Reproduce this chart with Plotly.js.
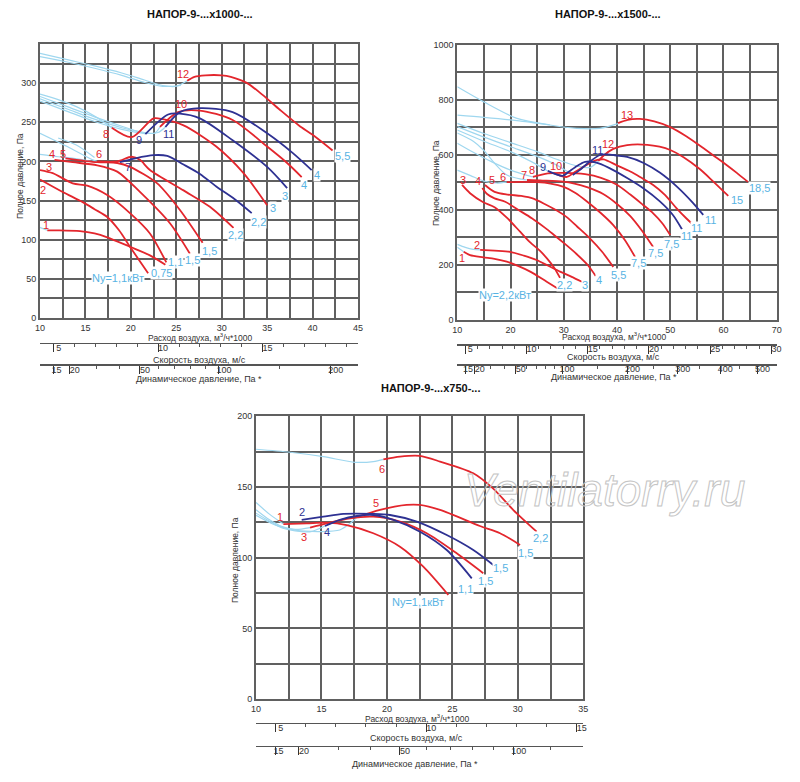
<!DOCTYPE html>
<html>
<head>
<meta charset="utf-8">
<script src="https://cdn.plot.ly/plotly-3.0.1.min.js"></script>
<style>
html, body { margin: 0; padding: 0; background: #fff; }
#chart { width: 800px; height: 782px; }
</style>
</head>
<body>
<div id="chart"></div>
<script>
"use strict";

// ---- chart A: НАПОР-9-...x1000-... (flow m3/h*1000, total pressure Pa)
const flowTicksA = [10, 15, 20, 25, 30, 35, 40, 45];
const pressTicksA = [0, 50, 100, 150, 200, 250, 300];
const speedTicksA = [5, 10, 15];
const dynTicksA = [15, 20, 50, 100, 200];
const dynMinorA = [30, 40, 60, 70, 80, 90, 150];

const a1 = [[10.8, 112], [12, 112], [14.4, 111], [16, 108], [17.4, 103], [19.9, 91], [22.1, 80], [23.8, 68]];
const a2 = [[10, 177], [12.5, 161], [14.7, 148], [16, 139], [17.4, 129], [18.7, 112], [19.9, 91], [21.9, 57]];
const a3 = [[10, 189], [11.4, 185], [13.6, 172], [15.2, 169], [17.4, 157], [19.9, 134], [22.1, 108], [23.9, 71]];
const a4 = [[11.6, 202], [13.6, 199], [16.3, 195], [18.5, 187], [21, 161], [24.3, 121], [26.5, 82]];
const a5 = [[12.8, 204], [16.3, 199], [18.5, 198], [19.9, 193], [22.9, 172], [25.4, 138], [27.9, 96]];
const a6 = [[16.3, 200], [18.5, 200], [20.1, 206], [21, 202], [22.1, 189], [25.8, 163], [28.7, 142], [31.3, 115]];
const a7 = [[18.8, 199], [20.5, 204], [22.5, 208], [24, 207], [25.8, 196], [27.6, 184], [29.4, 168], [31.4, 152], [33.3, 134]];
const a8 = [[17.9, 243], [20.1, 231], [22.5, 255], [23.5, 254], [25.8, 246], [29.4, 219], [32.4, 185], [35, 144]];
const a9 = [[21.6, 235], [24.1, 260], [25.4, 261], [27.6, 255], [31.2, 227], [35, 193], [37.2, 166]];
const a10 = [[23.2, 244], [25.2, 263], [27.6, 265], [31.2, 253], [35, 219], [37.2, 198], [38.8, 180]];
const a11 = [[23.8, 244], [25.4, 263], [27.6, 268], [31.2, 263], [35, 236], [37.8, 211], [39.9, 189]];
const a12 = [[26.2, 303], [27, 308], [28.2, 310], [30, 310], [31, 308], [32.8, 300], [34.5, 285], [36.4, 266], [38.5, 246], [40, 234], [42.2, 214]];

const aSky1 = [[10, 338], [13, 330], [16, 322], [19, 313], [21.5, 304], [23.5, 297], [25, 296], [26.2, 303]];
const aSky2 = [[10, 334], [13, 327], [16, 319], [19, 310], [21.5, 301], [23.5, 296], [25.5, 297]];
const aSky3 = [[10, 286], [12, 279], [14, 270], [16, 258], [17.9, 243]];
const aSky4 = [[10, 283], [13, 270], [16, 257], [19, 245], [21.6, 235]];
const aSky5 = [[10, 280], [13, 267], [16, 254], [19, 243], [21, 238], [22.6, 236], [23.2, 244]];
const aSky6 = [[10, 277], [13, 264], [16, 251], [19, 241], [21.5, 236], [23, 237], [23.8, 244]];
const aSky7 = [[10, 236], [13, 219], [15.8, 202], [16.3, 200]];
const aSky8 = [[12, 230], [14, 221], [16, 205]];
const aSky9 = [[10, 209], [12, 206], [13.7, 204], [16.2, 199]];
const aSky10 = [[9.9, 116], [10.8, 112]];

// ---- chart B: НАПОР-9-...x1500-...
const flowTicksB = [10, 20, 30, 40, 50, 60, 70];
const pressTicksB = [0, 200, 400, 600, 800, 1000];
const speedTicksB = [5, 10, 15, 20, 25, 30];
const dynTicksB = [15, 20, 50, 100, 200, 300, 400, 500];
const dynMinorB = [30, 40, 60, 70, 80, 90, 150, 250, 350, 450];

const b1 = [[11.2, 248], [12.4, 236], [14.9, 228], [17, 222], [19.3, 212], [21.5, 196], [23.7, 176], [26.8, 139], [29.3, 109]];
const b2 = [[14.3, 255], [17, 252], [19.9, 248], [22.5, 234], [24.9, 218], [27, 198], [29.3, 176], [31.5, 157], [33.4, 139]];
const b3 = [[10.9, 491], [12.4, 461], [14.8, 429], [17, 410], [19.3, 372], [21.8, 321], [23.7, 282], [25.5, 252], [26.8, 225], [28.2, 190], [29.3, 153]];
const b4 = [[14.7, 480], [15.6, 458], [17, 442], [19, 430], [21.5, 400], [24, 370], [26.5, 335], [28, 312], [30.5, 272], [32.4, 240], [34.5, 200], [36, 160]];
const b5 = [[15.2, 491], [17, 466], [19.5, 456], [22, 451], [24.3, 441], [26.5, 421], [28.7, 398], [30.5, 375], [32.5, 340], [34.9, 297], [37.2, 248], [39.3, 193]];
const b6 = [[19.3, 501], [22, 502], [25, 501], [27.5, 496], [30, 484], [32.2, 462], [34.3, 432], [37, 388], [39.3, 345], [41.5, 290], [43.4, 229]];
const b7 = [[23.1, 509], [26, 507], [29.9, 503], [32, 496], [34.5, 482], [37.4, 458], [40, 422], [42.5, 378], [44.8, 322], [46.8, 265]];
const b8 = [[24.2, 520], [27, 533], [30.5, 535], [34, 530], [37, 517], [40, 492], [42.5, 456], [44.8, 420], [46.8, 388], [48.5, 352], [50, 309]];
const b9 = [[27, 542], [29.8, 524], [31, 540], [32.5, 560], [34, 575], [36, 573], [38.5, 553], [41.9, 516], [45, 478], [48, 432], [50.5, 382], [52.2, 330]];
const b10 = [[28, 535], [30.6, 520], [32, 537], [33.6, 556], [35, 572], [36.3, 582], [37.5, 584], [40, 562], [42.5, 540], [44.5, 518], [46.8, 491], [49, 455], [51.2, 406], [53, 370], [54.1, 350]];
const b11 = [[31.7, 527], [33, 545], [34.5, 570], [36.8, 600], [38.1, 602], [40, 598], [41.9, 593], [45, 571], [48.1, 535], [51.3, 484], [54.3, 425], [56.2, 382]];
const b12 = [[36.5, 578], [37.5, 598], [39.3, 622], [41.9, 636], [45.7, 637], [48, 630], [50, 618], [52.5, 592], [55.6, 548], [58, 505], [60.9, 451]];
const b13 = [[40.2, 716], [42, 728], [44.3, 731], [47, 722], [49.9, 702], [53, 668], [56.2, 625], [58.5, 593], [60.7, 562], [62.5, 535], [64.6, 502]];

const bSky1 = [[10, 848], [14.9, 794], [21.2, 733], [27.4, 709], [32.4, 697], [36.8, 697], [40.2, 714]];
const bSky2 = [[10, 745], [15, 737], [21.2, 725], [27.4, 709]];
const bSky3 = [[10, 715], [15, 678], [20, 645], [25, 612], [29, 582], [32.5, 560], [35, 555], [36.5, 578]];
const bSky4 = [[10, 703], [15, 665], [20, 630], [25, 595], [28.5, 565], [31.7, 527]];
const bSky5 = [[10, 691], [15, 650], [20, 612], [24, 575], [27, 542]];
const bSky6 = [[10, 643], [13, 610], [16.5, 575], [20, 545], [24.2, 520]];
const bSky7 = [[10, 680], [13, 650], [14.9, 618], [17, 570], [19.3, 527], [22.1, 512], [23.1, 509]];
const bSky8 = [[10, 545], [12.5, 525], [15, 505], [17.4, 498], [19.3, 501]];
const bSky9 = [[10, 275], [11.5, 264], [13, 257], [14.3, 255]];
const bSky10 = [[10, 265], [11.2, 248]];

// ---- chart C: НАПОР-9-...x750-...
const flowTicksC = [10, 15, 20, 25, 30, 35];
const pressTicksC = [0, 50, 100, 150, 200];
const speedTicksC = [5, 10, 15];
const dynTicksC = [15, 20, 50, 100, 140];
const dynMinorC = [30, 40, 60, 70, 80, 90, 120];

const c1 = [[12.09, 123.8], [13.87, 124.3], [15.4, 124.8], [16.93, 123.1], [18.96, 117.3], [21, 107.8], [22.78, 93.6], [24.69, 73.6]];
const c2 = [[13.49, 126.7], [15.14, 129], [16.67, 131], [18.96, 131], [20.24, 130.2], [22.28, 125.5], [24.57, 116], [26.6, 105.4], [28.13, 94.8]];
const c3 = [[14.13, 121.3], [15.4, 124.3], [17.18, 127.9], [18.96, 129], [21, 125.5], [23.04, 117.3], [25.33, 103.1], [27.36, 89]];
const c4 = [[15.27, 122.4], [16.4, 126.7], [17.7, 129.5], [18.96, 130.2], [20.5, 126.7], [22.53, 118.4], [24.57, 105.4], [26.48, 85.4]];
const c5 = [[17.7, 128.6], [19.47, 133.8], [21.5, 137.3], [22.5, 137.3], [24.06, 133.8], [27.1, 122.4], [28.64, 117.3], [30.17, 109]];
const c6 = [[19.73, 169.6], [21, 171.5], [22.5, 172], [24.06, 168], [26.6, 159.7], [28.1, 149], [29.66, 133.7], [31.44, 118.4]];

const cSky1 = [[10, 176.7], [12.6, 174.6], [15.14, 171.5], [17.56, 167.5], [18.96, 168], [19.73, 169.6]];
const cSky2 = [[10, 139], [11, 131], [12.09, 123.8]];
const cSky3 = [[10, 134], [11, 127], [12, 122], [13, 120], [14.13, 121.3]];
const cSky4 = [[10, 131.5], [11, 126], [12, 121], [13, 119], [14.2, 118.5], [15.27, 122.4]];
const cSky5 = [[10, 130], [11.5, 123], [13, 119.5], [15, 118.5], [16.4, 119.6], [17.2, 124.3], [17.7, 128.6]];

// air speed = flow / K, dynamic pressure = 0.6 * v^2
const K = 2.3;
const flowAtDyn = (pd) => K * Math.sqrt(pd / 0.6);

const RED = "#e3262d";
const BLUE = "#2e3192";
const SKY = "#9fd7ef";
const SKY_TEXT = "#58b3e3";
const GRID = "#606060";
const NARROW = "Liberation Sans Narrow, Liberation Sans, Arial, sans-serif";
const WATERMARK = "Ventilatorry.ru";

const traces = [];

const addCurve = (points, color, width, xa, ya) => {
    traces.push({
        type: "scatter",
        mode: "lines",
        x: points.map((p) => p[0]),
        y: points.map((p) => p[1]),
        xaxis: xa,
        yaxis: ya,
        line: { color, width, shape: "spline", smoothing: 0.8 },
        hoverinfo: "skip",
        showlegend: false,
    });
};

[aSky1, aSky2, aSky3, aSky4, aSky5, aSky6, aSky7, aSky8, aSky9, aSky10]
    .forEach((c) => addCurve(c, SKY, 1.2, "x", "y"));
[a1, a2, a3, a4, a5, a6, a8, a10, a12]
    .forEach((c) => addCurve(c, RED, 1.8, "x", "y"));
[a7, a9, a11]
    .forEach((c) => addCurve(c, BLUE, 1.8, "x", "y"));

[bSky1, bSky2, bSky3, bSky4, bSky5, bSky6, bSky7, bSky8, bSky9, bSky10]
    .forEach((c) => addCurve(c, SKY, 1.2, "x2", "y2"));
[b1, b2, b3, b4, b5, b6, b7, b8, b10, b12, b13]
    .forEach((c) => addCurve(c, RED, 1.8, "x2", "y2"));
[b9, b11]
    .forEach((c) => addCurve(c, BLUE, 1.8, "x2", "y2"));

[cSky1, cSky2, cSky3, cSky4, cSky5]
    .forEach((c) => addCurve(c, SKY, 1.2, "x3", "y3"));
[c1, c3, c5, c6]
    .forEach((c) => addCurve(c, RED, 1.8, "x3", "y3"));
[c2, c4]
    .forEach((c) => addCurve(c, BLUE, 1.8, "x3", "y3"));

// empty traces so that the extra scales get drawn
[["x4", "y"], ["x5", "y"], ["x6", "y2"], ["x7", "y2"], ["x8", "y3"], ["x9", "y3"]]
    .forEach(([xa, ya]) => {
        traces.push({
            type: "scatter", mode: "lines", x: [null], y: [null],
            xaxis: xa, yaxis: ya, hoverinfo: "skip", showlegend: false,
        });
    });

const tickFont = { family: NARROW, size: 9, color: "#333" };

const gridAxis = (domain, range, labels, minorStep, anchor) => ({
    domain,
    range,
    anchor,
    tickmode: "array",
    tickvals: labels,
    ticktext: labels.map(String),
    tickangle: 0,
    ticks: "",
    showgrid: true,
    gridcolor: GRID,
    gridwidth: 2,
    minor: {
        tickmode: "linear",
        tick0: 0,
        dtick: minorStep,
        showgrid: true,
        gridcolor: GRID,
        gridwidth: 2,
    },
    showline: true,
    mirror: true,
    linecolor: GRID,
    linewidth: 2,
    zeroline: false,
    fixedrange: true,
    tickfont: tickFont,
});

const extraAxis = (domain, base, position) => ({
    domain,
    overlaying: base,
    anchor: "free",
    position,
    tickangle: 0,
    ticks: "outside",
    ticklen: 8,
    tickwidth: 1,
    tickcolor: "#333",
    showline: true,
    linecolor: "#555",
    linewidth: 1.5,
    showgrid: false,
    zeroline: false,
    fixedrange: true,
    ticklabelshift: 5,
    ticklabelstandoff: -12,
    tickfont: tickFont,
});

const speedAxis = (domain, flowRange, labels, base, position) => Object.assign(
    extraAxis(domain, base, position),
    {
        range: flowRange.map((q) => q / K),
        tickmode: "array",
        tickvals: labels,
        ticktext: labels.map(String),
        minor: {
            tickmode: "linear", tick0: 0, dtick: 1,
            ticks: "outside", ticklen: 3, tickwidth: 1, tickcolor: "#555",
        },
    }
);

// the first dynamic-pressure label sits tight against the second one
const dynText = (v, i) => (i === 0 ? v + "\u2002" : String(v));

const dynAxis = (domain, flowRange, labels, minors, base, position) => Object.assign(
    extraAxis(domain, base, position),
    {
        range: flowRange,
        tickmode: "array",
        tickvals: labels.map(flowAtDyn),
        ticktext: labels.map(dynText),
        minor: {
            tickmode: "array", tickvals: minors.map(flowAtDyn),
            ticks: "outside", ticklen: 3, tickwidth: 1, tickcolor: "#555",
        },
    }
);

const domA = [[0.05, 0.4475], [0.5934, 0.9437]];
const domB = [[0.5716, 0.9709], [0.5908, 0.9425]];
const domC = [[0.32, 0.7291], [0.1061, 0.4676]];

const annotations = [];

const label = (text, x, y, xref, yref, color, withBg) => {
    annotations.push({
        text, x, y, xref, yref,
        xanchor: "center",
        yanchor: "middle",
        showarrow: false,
        font: { family: NARROW, size: 11, color },
        bgcolor: withBg ? "#fff" : "rgba(0,0,0,0)",
        borderpad: 0,
    });
};

const paperText = (text, x, y, opts) => {
    annotations.push(Object.assign({
        text, x, y, xref: "paper", yref: "paper",
        xanchor: "center",
        yanchor: "middle",
        showarrow: false,
        font: { family: NARROW, size: 9, color: "#333" },
    }, opts || {}));
};

// curve numbers and motor powers, chart A
[
    ["12", 25.7, 312, RED], ["10", 25.5, 273, RED], ["8", 17.3, 235, RED],
    ["9", 20.9, 227, BLUE], ["11", 24.1, 235, BLUE], ["7", 19.7, 193, BLUE],
    ["6", 16.5, 209, RED], ["5", 12.5, 209, RED], ["4", 11.3, 209, RED],
    ["3", 11, 193, RED], ["2", 10.3, 163, RED], ["1", 10.7, 119, RED],
].forEach(([t, x, y, c]) => label(t, x, y, "x", "y", c, false));
[
    ["5,5", 43.3, 207], ["4", 40.5, 183], ["4", 39.1, 170], ["3", 37, 156],
    ["3", 35.6, 140], ["2,2", 34, 123], ["2,2", 31.5, 106], ["1,5", 28.7, 86],
    ["1,5", 26.8, 74], ["1,1", 24.9, 72], ["0,75", 23.4, 57], ["Ny=1,1кВт", 18.6, 51],
].forEach(([t, x, y]) => label(t, x, y, "x", "y", SKY_TEXT, true));

// chart B
[
    ["13", 41.9, 745, RED], ["12", 38.3, 640, RED], ["11", 36.3, 618, BLUE],
    ["10", 28.6, 560, RED], ["9", 26.1, 556, BLUE], ["8", 24, 545, RED],
    ["7", 22.5, 527, RED], ["6", 18.6, 520, RED], ["5", 16.5, 509, RED],
    ["4", 13.9, 505, RED], ["3", 11.1, 509, RED], ["2", 13.7, 273, RED],
    ["1", 10.9, 225, RED],
].forEach(([t, x, y, c]) => label(t, x, y, "x2", "y2", c, false));
[
    ["18,5", 66.7, 480], ["15", 62.6, 436], ["11", 57.5, 364], ["11", 55, 335],
    ["11", 53.1, 305], ["7,5", 50.3, 276], ["7,5", 47.3, 244], ["7,5", 44, 207],
    ["5,5", 40.2, 164], ["4", 36.6, 145], ["3", 34, 127], ["2,2", 30.2, 127],
    ["Ny=2,2кВт", 19, 91],
].forEach(([t, x, y]) => label(t, x, y, "x2", "y2", SKY_TEXT, true));

// chart C
[
    ["6", 19.6, 163, RED], ["5", 19.2, 139, RED], ["2", 13.5, 132, BLUE],
    ["1", 11.8, 128.6, RED], ["3", 13.7, 114.6, RED], ["4", 15.45, 118.4, BLUE],
].forEach(([t, x, y, c]) => label(t, x, y, "x3", "y3", c, false));
[
    ["2,2", 31.7, 113.7], ["1,5", 30.55, 103.5], ["1,5", 28.7, 92.5],
    ["1,5", 27.5, 83.5], ["1,1", 26, 77.6], ["Ny=1,1кВт", 22.4, 68.4],
].forEach(([t, x, y]) => label(t, x, y, "x3", "y3", SKY_TEXT, true));

// titles and axis captions
const titleFont = { family: "Liberation Sans, Arial, sans-serif", size: 11, color: "#111", weight: "bold" };
paperText("НАПОР-9-...x1000-...", 0.25, 0.982, { font: titleFont });
paperText("НАПОР-9-...x1500-...", 0.76, 0.982, { font: titleFont });
paperText("НАПОР-9-...x750-...", 0.5375, 0.5038, { font: titleFont });

const flowCaption = "Расход воздуха, м<sup>3</sup>/ч*1000";
const speedCaption = "Скорость воздуха, м/с";
const dynCaption = "Динамическое давление, Па *";
const pressCaption = "Полное давление, Па";
const pressFont = { family: NARROW, size: 8.5, color: "#333" };
const captionFont = { family: NARROW, size: 8.5, color: "#333" };

paperText(flowCaption, 0.25, 0.5684, { font: captionFont });
paperText(speedCaption, 0.249, 0.5399);
paperText(dynCaption, 0.249, 0.5153);
paperText(pressCaption, 0.025, 0.775, { textangle: -90, font: pressFont });

paperText(flowCaption, 0.768, 0.5694, { font: captionFont });
paperText(speedCaption, 0.767, 0.5429);
paperText(dynCaption, 0.767, 0.5173);
paperText(pressCaption, 0.545, 0.766, { textangle: -90, font: pressFont });

paperText(flowCaption, 0.521, 0.0815, { font: captionFont });
paperText(speedCaption, 0.52, 0.0562);
paperText(dynCaption, 0.519, 0.0229);
paperText(pressCaption, 0.294, 0.284, { textangle: -90, font: pressFont });

// site watermark (outlined afterwards)
paperText(WATERMARK, 0.756, 0.373, {
    font: {
        family: "Liberation Sans, Arial, sans-serif",
        size: 46,
        color: "#d0d0d0",
        style: "italic",
    },
});

const layout = {
    width: 800,
    height: 782,
    margin: { l: 0, r: 0, t: 0, b: 0 },
    paper_bgcolor: "#fff",
    plot_bgcolor: "#fff",
    showlegend: false,
    xaxis: gridAxis(domA[0], [10, 45], flowTicksA, 2.5, "y"),
    yaxis: gridAxis(domA[1], [0, 350], pressTicksA, 25, "x"),
    xaxis2: gridAxis(domB[0], [10, 70], flowTicksB, 5, "y2"),
    yaxis2: gridAxis(domB[1], [0, 1000], pressTicksB, 100, "x2"),
    xaxis3: gridAxis(domC[0], [10, 35], flowTicksC, 2.5, "y3"),
    yaxis3: gridAxis(domC[1], [0, 200], pressTicksC, 25, "x3"),
    xaxis4: speedAxis(domA[0], [10, 45], speedTicksA, "x", 0.5614),
    xaxis5: dynAxis(domA[0], [10, 45], dynTicksA, dynMinorA, "x", 0.5341),
    xaxis6: speedAxis(domB[0], [10, 70], speedTicksB, "x2", 0.5601),
    xaxis7: dynAxis(domB[0], [10, 70], dynTicksB, dynMinorB, "x2", 0.5345),
    xaxis8: speedAxis(domC[0], [10, 35], speedTicksC, "x3", 0.0758),
    xaxis9: dynAxis(domC[0], [10, 35], dynTicksC, dynMinorC, "x3", 0.0464),
    annotations,
};

Plotly.newPlot("chart", traces, layout, {
    displayModeBar: false,
    staticPlot: true,
}).then((gd) => {
    gd.querySelectorAll(".annotation-text").forEach((el) => {
        if (el.textContent === WATERMARK) {
            el.style.fill = "none";
            el.style.stroke = "#c4c4c4";
            el.style.strokeWidth = "1px";
        }
    });
});
</script>
</body>
</html>
